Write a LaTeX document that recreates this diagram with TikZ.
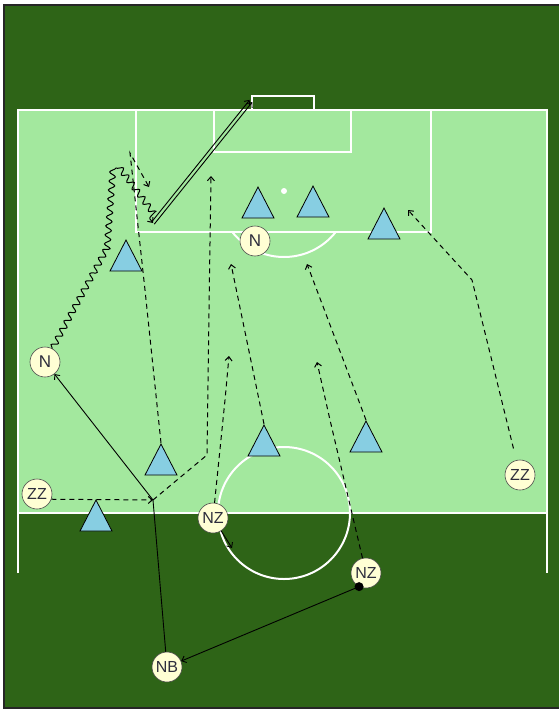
\documentclass[tikz,border=0pt]{standalone}
\usepackage{fontspec}
\newfontfamily\labelfont{Liberation Sans}
\usetikzlibrary{arrows.meta,shapes.geometric,decorations.pathmorphing}

\definecolor{pitchdark}{RGB}{46,100,23}
\definecolor{pitchlight}{RGB}{163,232,158}
\definecolor{coneblue}{RGB}{135,206,226}
\definecolor{chipcream}{RGB}{255,255,212}
\definecolor{chipink}{RGB}{45,45,60}

\begin{document}
\begin{tikzpicture}[x=1pt, y=-1pt, >={Straight Barb[length=4pt,width=7pt]},
	chalk/.style={white, line width=2pt},
	run/.style={black, line width=1pt, dash pattern=on 5pt off 4pt, ->},
	pass/.style={black, line width=0.9pt, ->},
	wavy/.style={black, line width=1pt, decorate,
		decoration={snake, amplitude=3pt, segment length=9pt, post length=4pt}},
	cone/.style={isosceles triangle, isosceles triangle stretches,
		shape border rotate=90, draw=black, line width=0.8pt, fill=coneblue,
		minimum width=32pt, minimum height=31pt, inner sep=0pt},
	man/.style={circle, draw=black!70, line width=0.6pt, fill=chipcream, minimum size=30pt,
		inner sep=0pt, text=chipink, font=\labelfont\fontsize{17}{17}\selectfont},
	twoman/.style={man, font=\labelfont\fontsize{16}{16}\selectfont}]
	
	\useasboundingbox (0,0) rectangle (559,709);
	
	% ── Spielfeld ───────────────────────────────────────────
	\draw[black!85, line width=2pt, fill=pitchdark] (4,5) rectangle (562,708);
	\fill[pitchlight] (18,110) rectangle (547,513);
	\draw[chalk] (18,573) -- (18,110) -- (547,110) -- (547,573);
	\draw[chalk] (18,513) -- (547,513);
	\draw[chalk] (136,110) -- (136,232) -- (431,232) -- (431,110);
	\draw[chalk] (214,110) -- (214,152) -- (351,152) -- (351,110);
	\draw[chalk] (252,110) -- (252,96) -- (314,96) -- (314,110);
	\fill[white] (284,191) circle (3pt);
	\begin{scope}
		\clip (136,233) rectangle (431,300);
		\draw[chalk] (284,191) circle (66pt);
	\end{scope}
	\draw[chalk] (284,513) circle (66pt);
	
	% ── Hütchen ─────────────────────────────────────────────
	\node[cone, anchor=apex] (c1) at (126,239) {};
	\node[cone, anchor=apex] (c2) at (258,186) {};
	\node[cone, anchor=apex] (c3) at (313,185) {};
	\node[cone, anchor=apex] (c4) at (384,207) {};
	\node[cone, anchor=apex] (c5) at (161,443) {};
	\node[cone, anchor=apex] (c6) at (264,424) {};
	\node[cone, anchor=apex] (c7) at (366,420) {};
	\node[cone, anchor=apex] (c8) at (96,499) {};
	
	% ── Spieler ─────────────────────────────────────────────
	\node[man] (n1) at (255,241) {N};
	\node[man] (n2) at (45,362) {N};
	\node[twoman] (zz1) at (37,494) {ZZ};
	\node[twoman] (zz2) at (520,475) {ZZ};
	\node[twoman] (nz1) at (213,518) {NZ};
	\node[twoman] (nz2) at (366,573) {NZ};
	\node[twoman] (nb) at (167,667) {NB};
	
	\coordinate (cross) at (153,500);
	\coordinate (dribble) at (153,223);
	\coordinate (goal) at (251,101);
	\coordinate (nzstep) at (232,548);
	
	% ── Laufwege und Pässe ──────────────────────────────────
	\draw[run] (zz1.-20) -- (cross);
	\draw[pass, -] (nb) -- (cross);
	\draw[pass] (cross) -- (n2);
	\draw[run] (cross) -- (207,455) -- (209,310) -- (211,176);
	\draw[pass] (nz1) -- (nzstep);
	\draw[run] (nz1) -- (225,400) -- (229,356);
	\draw[run] (c6.apex) -- (231,264);
	\draw[run] (c7.apex) -- (307,264);
	\draw[run] (nz2) -- (330,420) -- (317,362);
	\draw[run, shorten <=12pt] (zz2) -- (472,280) -- (408,210);
	\draw[run] (c5.apex) -- (145,290) -- (133,180) -- (130,153) -- (149,187);
	\fill[black] (nz2.243) circle (4.5pt);
	\draw[pass] (nz2.243) -- (nb);
	
	% Dribbling und Torschuss
	\draw[wavy, ->] (n2) -- (106,250) -- (112,168) -- (dribble);
	\draw[pass, transform canvas={shift={(1.3pt,-1.1pt)}}] (dribble) -- (goal);
	\draw[pass, transform canvas={shift={(-1.3pt,1.1pt)}}] (dribble) -- (goal);
	
\end{tikzpicture}
\end{document}
